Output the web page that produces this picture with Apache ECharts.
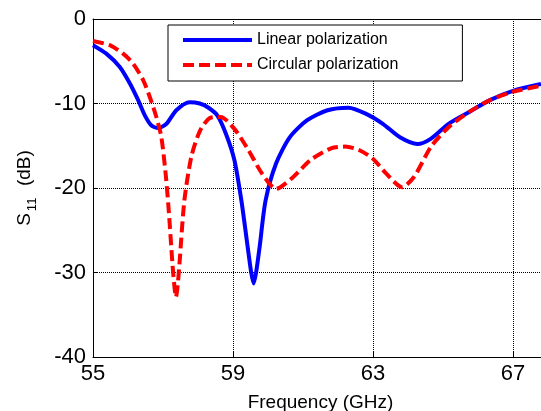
<!DOCTYPE html>
<html>
<head>
<meta charset="utf-8">
<script src="https://cdn.jsdelivr.net/npm/echarts@6/dist/echarts.min.js"></script>
<style>html,body{margin:0;padding:0;background:#fff;}#c{width:541px;height:411px;}</style>
</head>
<body>
<div id="c"></div>
<script>
// Data
const freqLinear = [55, 55.38, 55.76, 56.05, 56.29, 56.48, 56.67, 56.86, 57.1, 57.38, 57.76, 58.05, 58.3, 58.55, 58.8, 59.04, 59.24, 59.42, 59.52, 59.59, 59.66, 59.76, 59.93, 60.23, 60.62, 61.11, 61.7, 62.3, 62.79, 63.28, 63.77, 64.27, 64.66, 65.16, 65.75, 66.34, 67, 67.8];
const s11Linear  = [-3.1, -4.1, -5.65, -7.6, -9.6, -11.4, -12.6, -12.9, -12.4, -10.8, -9.85, -10.0, -10.5, -11.4, -13.6, -16.7, -21.5, -27.0, -30.0, -31.3, -30.0, -27.0, -21.5, -17.1, -14.0, -12.0, -10.8, -10.5, -11.2, -12.4, -14.0, -14.8, -14.15, -12.4, -11.0, -9.6, -8.5, -7.7];
const freqCircular = [55, 55.48, 55.86, 56.14, 56.43, 56.62, 56.81, 56.95, 57.08, 57.17, 57.27, 57.33, 57.37, 57.42, 57.47, 57.61, 57.81, 58.06, 58.35, 58.65, 59.04, 59.44, 59.83, 60.23, 60.72, 61.21, 61.8, 62.2, 62.6, 62.99, 63.38, 63.83, 64.17, 64.66, 65.16, 65.75, 66.34, 67, 67.8];
const s11Circular  = [-2.6, -3.1, -4.1, -5.25, -7.2, -9.2, -11.6, -13.9, -18.5, -23.0, -29.0, -31.8, -32.9, -31.5, -29.0, -21.5, -16.3, -13.2, -11.7, -11.6, -13.0, -15.5, -18.3, -20.1, -18.7, -16.7, -15.3, -15.1, -15.5, -16.5, -18.3, -19.9, -18.7, -15.1, -12.8, -11.0, -9.6, -8.6, -7.9];
const xTickLabels = [55, 59, 63, 67];
const yTicks = [0, -10, -20, -30, -40];
const seriesNames = ['Linear polarization', 'Circular polarization'];

const X0 = xTickLabels[0];
const toPairs = (xs, ys) => xs.map((x, i) => [x - X0, ys[i]]);

const FONT = 'Liberation Sans, Arial, sans-serif';
const chart = echarts.init(document.getElementById('c'), null, {renderer: 'canvas'});
chart.setOption({
  animation: false,
  backgroundColor: '#fff',
  grid: {left: 93, right: -7, top: 19, bottom: 54, containLabel: false, outerBoundsMode: 'none'},
  legend: {
    data: seriesNames,
    orient: 'vertical',
    align: 'left',
    left: 168, top: 25,
    padding: [7, 64, 8, 13],
    itemGap: 9,
    itemWidth: 69, itemHeight: 14,
    backgroundColor: '#fff',
    borderColor: '#000', borderWidth: 1, borderRadius: 0,
    itemStyle: {opacity: 0},
    lineStyle: {width: 4},
    textStyle: {fontFamily: FONT, fontSize: 16, color: '#000'}
  },
  xAxis: [{
    type: 'value', min: 0, max: 13, interval: 4,
    axisLine: {show: true, onZero: false, lineStyle: {color: '#000', width: 1}},
    axisTick: {show: true, inside: true, length: 5, lineStyle: {color: '#000'}},
    axisLabel: {fontFamily: FONT, fontSize: 22, color: '#000', margin: 6, formatter: v => String(v + X0), showMaxLabel: false},
    splitLine: {show: true, lineStyle: {color: '#000', type: [1, 1], width: 1}},
    name: 'Frequency (GHz)', nameLocation: 'middle', nameGap: 36,
    nameTextStyle: {fontFamily: FONT, fontSize: 19, color: '#000'}
  }, {
    type: 'value', min: 0, max: 13, position: 'top',
    axisLine: {show: true, onZero: false, lineStyle: {color: '#000', width: 1}},
    axisTick: {show: false}, axisLabel: {show: false}, splitLine: {show: false}
  }],
  yAxis: {
    type: 'value', min: -40, max: 0, interval: 10,
    axisLine: {show: true, onZero: false, lineStyle: {color: '#000', width: 1}},
    axisTick: {show: true, inside: true, length: 5, lineStyle: {color: '#000'}},
    axisLabel: {fontFamily: FONT, fontSize: 22, color: '#000', margin: 7},
    splitLine: {show: true, lineStyle: {color: '#000', type: [1, 1], width: 1}},
    name: '{m|S}{s|11}{m|  (dB)}', nameLocation: 'middle', nameRotate: 90, nameGap: 57,
    nameTextStyle: {
      fontFamily: FONT, color: '#000',
      rich: {
        m: {fontFamily: FONT, fontSize: 19, color: '#000', lineHeight: 22},
        s: {fontFamily: FONT, fontSize: 13, color: '#000', lineHeight: 22, padding: [14, 1, 0, 2]}
      }
    }
  },
  series: [{
    name: seriesNames[0], type: 'line', data: toPairs(freqLinear, s11Linear),
    smooth: 0.25, symbol: 'none',
    lineStyle: {color: '#0000ff', width: 4, type: 'solid'},
    itemStyle: {color: '#0000ff'}, z: 3
  }, {
    name: seriesNames[1], type: 'line', data: toPairs(freqCircular, s11Circular),
    smooth: 0.25, symbol: 'none',
    lineStyle: {color: '#ff0000', width: 4, type: [11, 5]},
    itemStyle: {color: '#ff0000'}, z: 4
  }]
});
</script>
</body>
</html>
